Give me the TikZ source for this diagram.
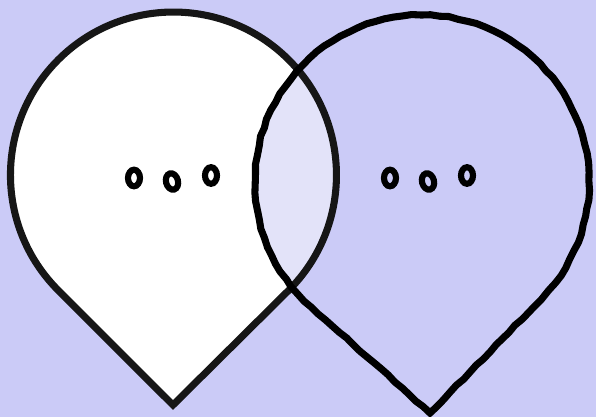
\documentclass[tikz,border=0pt]{standalone}
\usepackage[dvipsnames]{xcolor}
\usepackage{tikz}
\usetikzlibrary{decorations.pathmorphing}

\definecolor{backlav}{RGB}{203,203,247}
\definecolor{lenslav}{RGB}{227,227,249}
\definecolor{penink}{RGB}{22,22,22}

\begin{document}
\begin{tikzpicture}[x=0.75pt, y=0.75pt,
  outline/.style={line width=5.3pt, line join=miter, draw=penink},
  rough/.style={decorate, decoration={random steps, segment length=7pt, amplitude=0.5pt}},
  dot/.style={line width=4.6pt, draw=black}]
  \fill[backlav] (0,0) rectangle (596,417); \useasboundingbox (0,0) rectangle (596,417);
  % left bubble, white
  \fill[white] (173,12) -- (58.2,126.7) arc[start angle=225, end angle=-45, radius=163] -- cycle;
  % overlap
  \begin{scope}
    \clip (173,12) -- (58.2,126.7) arc[start angle=225, end angle=-45, radius=163] -- cycle;
    \fill[lenslav] (430,4) -- (310.9,110.2) arc[start angle=228.3, end angle=-44.3, radius=167] -- cycle;
  \end{scope}
  \draw[outline] (173,12) -- (58.2,126.7) arc[start angle=225, end angle=-45, radius=163] -- cycle;
  % right bubble, hand drawn
  \draw[outline, black, rough] (430,4) -- (310.9,110.2) arc[start angle=228.3, end angle=-44.3, radius=167] -- cycle;
  % the dots
  \foreach \dx/\dy/\tilt in {0/239/0, 38/235.5/15, 77/241.5/0} {
    \draw[dot, rotate around={\tilt:(134+\dx,\dy)}] (134+\dx,\dy) ellipse[x radius=6, y radius=8.3];
    \draw[dot, rotate around={\tilt:(390+\dx,\dy)}] (390+\dx,\dy) ellipse[x radius=6, y radius=8.3];
  }
\end{tikzpicture}
\end{document}
